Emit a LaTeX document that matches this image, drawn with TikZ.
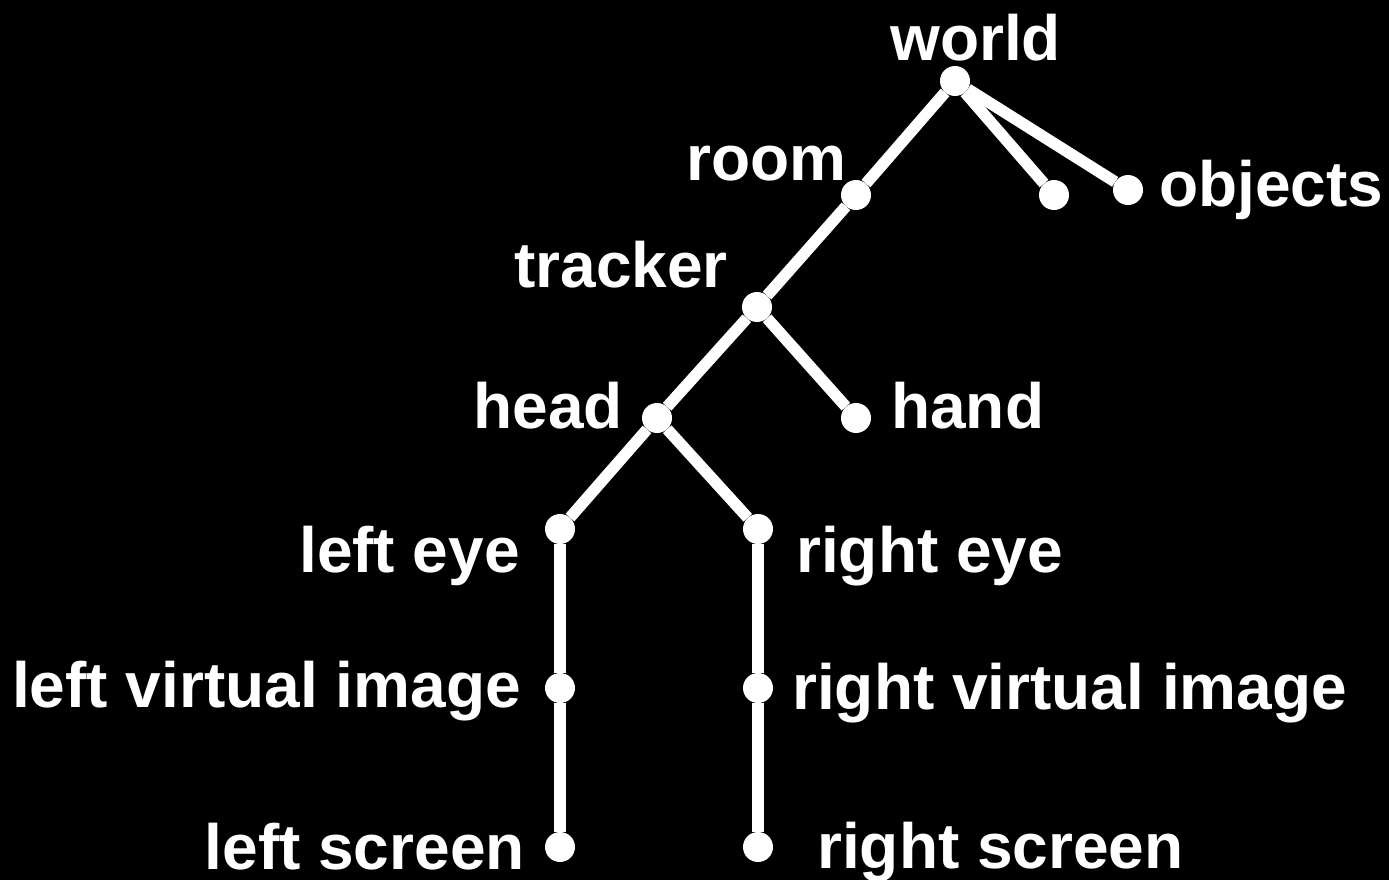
\documentclass[tikz,border=0pt]{standalone}
\usepackage{fontspec}
\setmainfont{Liberation Sans}
\begin{document}
\begin{tikzpicture}[x=1pt, y=-1pt]
    \def\dotSize{30pt}
    \def\branchWidth{11.5pt}

    \definecolor{backColour}{HTML}{000000}
    \definecolor{treeColour}{HTML}{FFFFFF}

    \tikzset{
        dot/.style={circle, fill=treeColour, minimum size=\dotSize, inner sep=0pt},
        lbl/.style={text=treeColour, inner sep=0pt, font=\fontsize{64}{70}\selectfont\bfseries},
        branch/.style={draw=treeColour, line width=\branchWidth}
    }

    % Background
    \fill[backColour] (0,0) rectangle (1389,880);
    \useasboundingbox (0,0) rectangle (1389,880);

    % Tree nodes
    \node[dot] (world)   at (955,81)  {};
    \node[dot] (room)    at (856,195) {};
    \node[dot] (extra)   at (1054,195) {};
    \node[dot] (objects) at (1128,190) {};
    \node[dot] (tracker) at (757,307) {};
    \node[dot] (hand)    at (856,418) {};
    \node[dot] (head)    at (657,418) {};
    \node[dot] (leye)    at (560,529) {};
    \node[dot] (reye)    at (758,529) {};
    \node[dot] (lvimage) at (560,688) {};
    \node[dot] (rvimage) at (758,688) {};
    \node[dot] (lscreen) at (560,847) {};
    \node[dot] (rscreen) at (758,847) {};

    % Branches
    \draw[branch] (world) -- (room);
    \draw[branch] (world) -- (extra);
    \draw[branch] (world) -- (objects);
    \draw[branch] (room) -- (tracker);
    \draw[branch] (tracker) -- (head);
    \draw[branch] (tracker) -- (hand);
    \draw[branch] (head) -- (leye);
    \draw[branch] (head) -- (reye);
    \draw[branch] (leye) -- (lvimage);
    \draw[branch] (lvimage) -- (lscreen);
    \draw[branch] (reye) -- (rvimage);
    \draw[branch] (rvimage) -- (rscreen);

    % Labels
    \node[lbl, anchor=base west] (worldtext)   at (890,61)  {world};
    \node[lbl, anchor=base east] (roomtext)    at (847,180) {room};
    \node[lbl, anchor=base west] (objectstext) at (1159,206) {objects};
    \node[lbl, anchor=base east] (trackertext) at (728,287) {tracker};
    \node[lbl, anchor=base east] (headtext)    at (623,428) {head};
    \node[lbl, anchor=base west] (handtext)    at (891,428) {hand};
    \node[lbl, anchor=base east] (leyetext)    at (520,572) {left eye};
    \node[lbl, anchor=base west] (reyetext)    at (796,572) {right eye};
    \node[lbl, anchor=base east] (lvimagetext) at (521,707) {left virtual image};
    \node[lbl, anchor=base west] (rvimagetext) at (792,709) {right virtual image};
    \node[lbl, anchor=base east] (lscreentext) at (525,869) {left screen};
    \node[lbl, anchor=base west] (rscreentext) at (817,868) {right screen};

\end{tikzpicture}
\end{document}
